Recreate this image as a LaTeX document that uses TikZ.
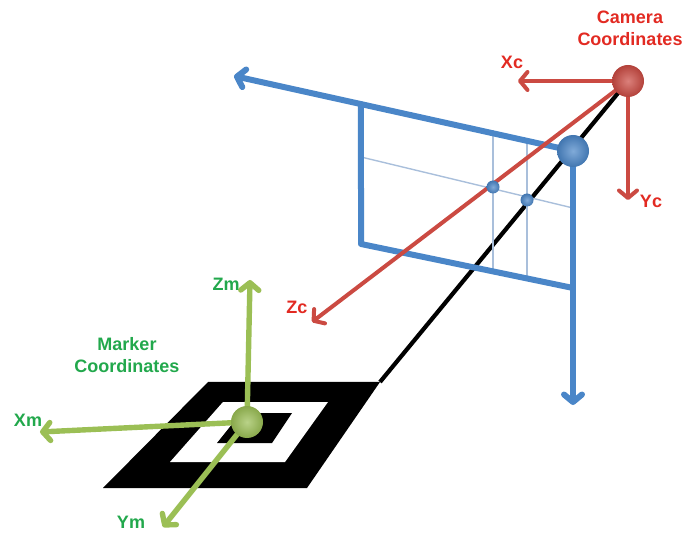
\documentclass[tikz,border=0pt]{standalone}
\usepackage{fontspec}
\setmainfont{Liberation Sans}
\usetikzlibrary{arrows.meta,calc}
\definecolor{planeblue}{HTML}{4A86C8}
\definecolor{gridblue}{HTML}{A9BFDB}
\definecolor{camred}{HTML}{CB4A42}
\definecolor{camtext}{HTML}{E22A22}
\definecolor{markgreen}{HTML}{9BBF55}
\definecolor{marktext}{HTML}{22A84C}
\tikzset{
  barb/.style={-{Straight Barb[length=7.5pt,width=18pt,round]}},
  bluearrow/.style={draw=planeblue, line width=6pt, barb},
  blueedge/.style={draw=planeblue, line width=6pt, line cap=round, line join=round},
  gridline/.style={draw=gridblue, line width=1.4pt},
  redarrow/.style={draw=camred, line width=4pt, barb},
  greenarrow/.style={draw=markgreen, line width=5.4pt, barb},
  ray/.style={draw=black, line width=4.2pt},
  sphere/.style={circle, inner sep=0pt, minimum size=#1},
  orb/.style={shading=radial, inner color=#1!70!white, outer color=#1!88!black},
  lbl/.style={font=\fontsize{18}{22}\selectfont\bfseries, align=center, inner sep=0pt},
}
\begin{document}
\begin{tikzpicture}[x=1pt,y=-1pt]
\useasboundingbox (0,0) rectangle (683,537);

% ---- marker pattern on the ground ----
\path[fill=black] (208,382) -- (380,382) -- (307,488) -- (103,488) -- cycle;
\path[fill=white] (223,402) -- (328,402) -- (285,462) -- (170,462) -- cycle;
\path[fill=black] (241,413) -- (292,413) -- (272,443) -- (217,443) -- cycle;
\coordinate (mcorner) at (380,382);

% ---- principal points ----
\coordinate (camc) at (628,81);
\coordinate (pp) at (573,151);

% ---- ray from camera to marker ----
\draw[ray] (camc) -- (mcorner);

% ---- image plane ----
\coordinate (xtip) at (234,76);
\coordinate (ytip) at (573,405);
\coordinate (tl) at ($(pp)!0.6254!(xtip)$);
\coordinate (bl) at (361,244);
\coordinate (br) at (573,288);
\draw[gridline] (361,157) -- (573,208);
\draw[gridline] (493,130) -- (493,272);
\draw[gridline] (527,138) -- (527,280);
\draw[blueedge] (tl) -- (bl) -- (br);
\draw[bluearrow] (pp) -- (xtip);
\draw[bluearrow] (pp) -- (ytip);

% ---- camera axes ----
\coordinate (xctip) at (518,81);
\coordinate (yctip) at (628,200);
\coordinate (zctip) at (312,322);
\draw[redarrow] (camc) -- (xctip);
\draw[redarrow] (camc) -- (yctip);
\draw[redarrow] (camc) -- (zctip);

% ---- projected points ----
\node[sphere=13pt, orb=planeblue] (p1) at (493,187) {};
\node[sphere=13pt, orb=planeblue] (p2) at (527,200) {};

% ---- marker axes ----
\coordinate (mc) at (247,422);
\coordinate (zmtip) at (250,280);
\coordinate (xmtip) at (40,432);
\coordinate (ymtip) at (163,527);
\draw[greenarrow] (mc) -- (zmtip);
\draw[greenarrow] (mc) -- (xmtip);
\draw[greenarrow] (mc) -- (ymtip);

% ---- origins ----
\node[sphere=32pt, orb=planeblue] (ppball) at (pp) {};
\node[sphere=32pt, orb=camred] (cam) at (camc) {};
\node[sphere=32pt, orb=markgreen] (mball) at (mc) {};

% ---- labels ----
\node[lbl, text=camtext] (camlbl) at (630,28) {Camera\\Coordinates};
\node[lbl, text=camtext] (xclbl) at (512,62) {Xc};
\node[lbl, text=camtext] (yclbl) at (651,201) {Yc};
\node[lbl, text=camtext] (zclbl) at (297,307) {Zc};
\node[lbl, text=marktext] (mlbl) at (127,355) {Marker\\Coordinates};
\node[lbl, text=marktext] (zmlbl) at (226,284) {Zm};
\node[lbl, text=marktext] (xmlbl) at (28,420) {Xm};
\node[lbl, text=marktext] (ymlbl) at (131,522) {Ym};
\end{tikzpicture}
\end{document}
